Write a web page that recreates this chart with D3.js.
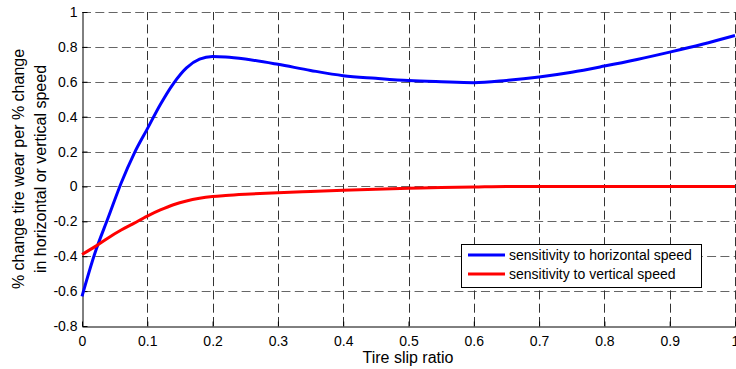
<!DOCTYPE html>
<html>
<head>
<meta charset="utf-8">
<script src="https://cdn.jsdelivr.net/npm/d3@7"></script>
<style>
  body { margin: 0; background: #fff; }
  svg { display: block; font-family: "Liberation Sans", Arial, sans-serif; }
</style>
</head>
<body>
<svg width="736" height="369"></svg>
<script>
// slip ratio samples
const slip = [0, 0.02, 0.04, 0.06, 0.08, 0.1, 0.12, 0.14, 0.16, 0.18, 0.2, 0.22, 0.25,
  0.3, 0.35, 0.4, 0.45, 0.5, 0.55, 0.6, 0.65, 0.7, 0.75, 0.8, 0.85, 0.9, 0.95, 1.0];
const horizontal = [-0.63, -0.38, -0.18, 0.02, 0.19, 0.33, 0.47, 0.59, 0.68, 0.73, 0.745, 0.742, 0.73,
  0.70, 0.665, 0.635, 0.62, 0.607, 0.60, 0.595, 0.608, 0.628, 0.655, 0.69, 0.728, 0.77, 0.815, 0.865];
const vertical = [-0.39, -0.345, -0.295, -0.25, -0.21, -0.17, -0.135, -0.105, -0.083, -0.068, -0.058, -0.052, -0.045,
  -0.036, -0.029, -0.022, -0.016, -0.011, -0.006, -0.003, 0, 0, 0, 0, 0, 0, 0, 0];
const xTicks = [0, 0.1, 0.2, 0.3, 0.4, 0.5, 0.6, 0.7, 0.8, 0.9, 1];
const yTicks = [-0.8, -0.6, -0.4, -0.2, 0, 0.2, 0.4, 0.6, 0.8, 1];
const seriesNames = ["sensitivity to horizontal speed", "sensitivity to vertical speed"];
const seriesColors = ["#0000ff", "#ff0000"];

(function(){
  const margin = { left: 82, right: 735, top: 12, bottom: 326 };
  const svg = d3.select("svg");

  const x = d3.scaleLinear().domain([0, 1]).range([margin.left, margin.right]);
  const y = d3.scaleLinear().domain([-0.8, 1]).range([margin.bottom, margin.top]);

  // dashed grid
  svg.append("g").selectAll("line")
    .data(yTicks.filter(d => d > -0.8))
    .enter().append("line")
    .attr("x1", margin.left).attr("x2", margin.right)
    .attr("y1", d => Math.round(y(d)) + 0.5).attr("y2", d => Math.round(y(d)) + 0.5)
    .attr("stroke", "#666").attr("stroke-dasharray", "9,4.3");

  svg.append("g").selectAll("line")
    .data(xTicks.filter(d => d > 0))
    .enter().append("line")
    .attr("x1", d => Math.round(x(d)) + 0.5).attr("x2", d => Math.round(x(d)) + 0.5)
    .attr("y1", margin.bottom).attr("y2", margin.top)
    .attr("stroke", "#333").attr("stroke-dasharray", "9,4.3");

  // axes (plain hyphen minus like the original)
  svg.append("g")
    .attr("transform", `translate(0,${margin.bottom + 0.5})`)
    .call(d3.axisBottom(x).tickValues(xTicks).tickSizeInner(-5).tickSizeOuter(0).tickPadding(10)
      .tickFormat(d => String(d)))
    .call(g => g.selectAll("text").attr("font-size", 14).attr("fill", "#000"));

  svg.append("g")
    .attr("transform", `translate(${margin.left + 0.5},0)`)
    .call(d3.axisLeft(y).tickValues(yTicks).tickSizeInner(-5).tickSizeOuter(0).tickPadding(5)
      .tickFormat(d => String(d)))
    .call(g => g.selectAll("text").attr("font-size", 14).attr("fill", "#000"));

  svg.selectAll(".domain").attr("stroke", "#000");
  svg.selectAll(".tick line").attr("stroke", "#000");

  // curves
  const line = d3.line()
    .x((d, i) => x(slip[i]))
    .y(d => y(d))
    .curve(d3.curveMonotoneX);

  [horizontal, vertical].forEach((vals, i) => {
    svg.append("path")
      .attr("d", line(vals))
      .attr("fill", "none")
      .attr("stroke", seriesColors[i])
      .attr("stroke-width", 3)
      .attr("stroke-linejoin", "round");
  });

  // axis labels
  svg.append("text")
    .attr("x", 408).attr("y", 363)
    .attr("text-anchor", "middle")
    .attr("font-size", 16)
    .text("Tire slip ratio");

  const yl = svg.append("text")
    .attr("transform", "translate(0,169) rotate(-90)")
    .attr("text-anchor", "middle")
    .attr("font-size", 16);
  yl.append("tspan").attr("x", 0).attr("y", 23.5).text("% change tire wear per % change");
  yl.append("tspan").attr("x", 0).attr("y", 46).text("in horizontal or vertical speed");

  // legend
  const legend = svg.append("g").attr("transform", "translate(461,244)");
  legend.append("rect")
    .attr("x", 0.5).attr("y", 0.5).attr("width", 240).attr("height", 43)
    .attr("fill", "#fff").attr("stroke", "#000");
  seriesNames.forEach((name, i) => {
    legend.append("line")
      .attr("x1", 7).attr("x2", 44)
      .attr("y1", 11 + i * 19).attr("y2", 11 + i * 19)
      .attr("stroke", seriesColors[i]).attr("stroke-width", 3);
    legend.append("text")
      .attr("x", 48).attr("y", 16 + i * 19)
      .attr("font-size", 14)
      .text(name);
  });
})();
</script>
</body>
</html>
